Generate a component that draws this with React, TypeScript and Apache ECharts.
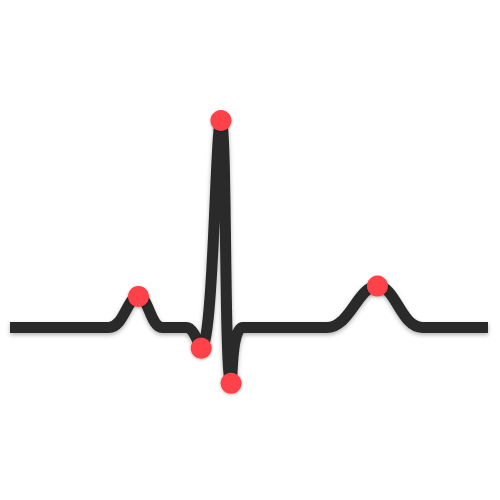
import React, { useEffect, useRef } from "react";
import * as echarts from "echarts";

// ECG trace: time in ms, amplitude in mV
const times = [0, 165, 215, 255, 295, 320, 353, 370, 390, 530, 615, 690, 800];
const volts = [0, 0, 0.15, 0, 0, -0.1, 1.0, -0.27, 0, 0, 0.2, 0, 0];
// indices of the P, Q, R, S, T peaks
const peakNames = ["P", "Q", "R", "S", "T"];
const peakIndex = [2, 5, 6, 7, 10];

export default function App() {
  const ref = useRef<HTMLDivElement>(null);
  useEffect(() => {
    if (!ref.current) return;
    const chart = echarts.init(ref.current, null, { renderer: "svg" });
    const line = times.map((t, i) => [t, volts[i]]);
    const peaks = peakIndex.map((idx, i) => ({ name: peakNames[i], value: [times[idx], volts[idx]] }));
    chart.setOption({
      animation: false,
      backgroundColor: "#ffffff",
      grid: { left: 10, right: 12, top: 17, bottom: 7 },
      xAxis: { type: "value", min: 0, max: 800, show: false },
      yAxis: { type: "value", min: -0.8, max: 1.5, show: false },
      series: [
        {
          type: "line",
          data: line,
          smooth: 0.4,
          showSymbol: false,
          symbol: "none",
          lineStyle: {
            color: "#2a2a2a",
            width: 11,
            cap: "butt",
            join: "round",
            shadowColor: "rgba(0,0,0,0.3)",
            shadowBlur: 4,
            shadowOffsetY: 2,
          },
          z: 2,
        },
        {
          type: "scatter",
          data: peaks,
          symbolSize: 21,
          itemStyle: {
            color: "#ff4248",
            opacity: 1,
            shadowColor: "rgba(0,0,0,0.25)",
            shadowBlur: 3,
            shadowOffsetY: 1,
          },
          z: 3,
        },
      ],
    });
    return () => chart.dispose();
  }, []);
  return (
    <div
      ref={ref}
      style={{ position: "fixed", left: 0, top: 0, width: 500, height: 500 }}
    />
  );
}
